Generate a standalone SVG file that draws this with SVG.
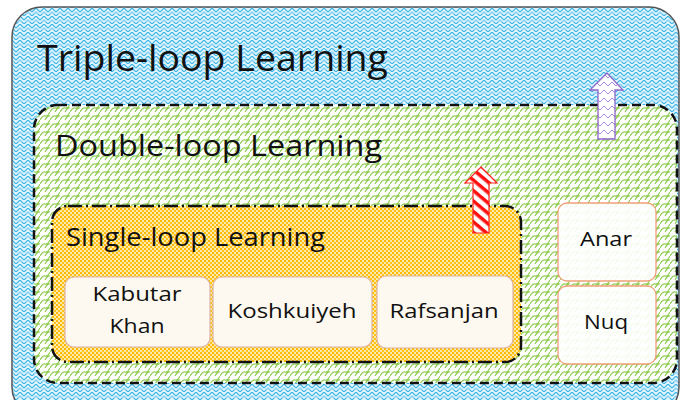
<svg xmlns="http://www.w3.org/2000/svg" width="681" height="400" viewBox="0 0 681 400">
  <defs>
    <!-- light blue herringbone weave -->
    <pattern id="weaveBlue" width="8" height="8" patternUnits="userSpaceOnUse">
      <rect width="8" height="8" fill="#e2f5fd"/>
      <path d="M0,4 L4,0 M4,0 L8,4 M0,8 L4,4 M4,4 L8,8" fill="none" stroke="#38b4e8" stroke-width="1.1"/>
      <path d="M2,6 L4,4 L6,6" fill="none" stroke="#8fd3f2" stroke-width="1"/>
    </pattern>
    <!-- green scale waves -->
    <pattern id="scaleGreen" width="10" height="8" patternUnits="userSpaceOnUse">
      <rect width="10" height="8" fill="#ffffff"/>
      <path d="M0,8 Q2.5,3 5,4 Q7.5,5 10,0 M-5,8 Q-2.5,3 0,4 M5,8 Q7.5,3 10,4" fill="none" stroke="#8fcc52" stroke-width="1.1"/>
    </pattern>
    <!-- orange dot screen -->
    <pattern id="dotsOrange" width="4" height="4" patternUnits="userSpaceOnUse">
      <rect width="4" height="4" fill="#fde9a8"/>
      <rect x="0" y="0" width="2" height="2" fill="#ffb800"/>
      <rect x="2" y="2" width="2" height="2" fill="#ffc21a"/>
    </pattern>
    <!-- red diagonal stripes -->
    <pattern id="stripeRed" width="8" height="8" patternUnits="userSpaceOnUse" patternTransform="rotate(40)">
      <rect width="8" height="8" fill="#ffffff"/>
      <rect width="8" height="3.5" fill="#ff1010"/>
    </pattern>
    <!-- purple light weave -->
    <pattern id="weavePurple" width="8" height="8" patternUnits="userSpaceOnUse">
      <rect width="8" height="8" fill="#ffffff"/>
      <path d="M0,6 L4,2 L8,6" fill="none" stroke="#a889d6" stroke-width="1"/>
    </pattern>
  </defs>
  <style>
    .title { font-family: "Open Sans", "Liberation Sans", sans-serif; fill: #111111; }
    .label { font-family: "Open Sans", "Liberation Sans", sans-serif; font-size: 20px; fill: #111111; text-anchor: middle; }
    .city { fill: #fdf9f0; stroke: #dcb4a4; stroke-width: 1.2; }
    .village { fill: #ffffff; fill-opacity: 0.9; stroke: #f0a07a; stroke-width: 1.3; }
  </style>

  <g id="triple-loop">
    <rect x="12" y="7" width="667" height="410" rx="30" fill="url(#weaveBlue)" stroke="#555555" stroke-width="1.5"/>
    <text class="title" x="37" y="71" font-size="36" textLength="351" lengthAdjust="spacingAndGlyphs">Triple-loop Learning</text>
  </g>

  <g id="double-loop">
    <rect x="34" y="105" width="643" height="278" rx="24" fill="url(#scaleGreen)" stroke="#111111" stroke-width="2.5" stroke-dasharray="9 5"/>
    <text class="title" x="55" y="156" font-size="30" textLength="327" lengthAdjust="spacingAndGlyphs">Double-loop Learning</text>
  </g>

  <g id="single-loop">
    <rect x="52" y="206" width="469" height="156" rx="16" fill="url(#dotsOrange)" stroke="#111111" stroke-width="2.5" stroke-dasharray="14 4 2 4"/>
    <text class="title" x="66" y="246" font-size="25" textLength="259" lengthAdjust="spacingAndGlyphs">Single-loop Learning</text>
  </g>

  <g id="kabutar-khan">
    <rect class="city" x="65" y="277" width="145" height="70" rx="9"/>
    <text class="label" x="137" y="301" textLength="89" lengthAdjust="spacingAndGlyphs">Kabutar</text>
    <text class="label" x="137" y="333" textLength="55" lengthAdjust="spacingAndGlyphs">Khan</text>
  </g>

  <g id="koshkuiyeh">
    <rect class="city" x="213" y="277" width="159" height="70" rx="9"/>
    <text class="label" x="292" y="318" textLength="129" lengthAdjust="spacingAndGlyphs">Koshkuiyeh</text>
  </g>

  <g id="rafsanjan">
    <rect class="city" x="377" y="276" width="136" height="72" rx="9"/>
    <text class="label" x="444" y="318" textLength="109" lengthAdjust="spacingAndGlyphs">Rafsanjan</text>
  </g>

  <g id="anar">
    <rect class="village" x="558" y="203" width="98" height="78" rx="9"/>
    <text class="label" x="606" y="246" textLength="52" lengthAdjust="spacingAndGlyphs">Anar</text>
  </g>

  <g id="nuq">
    <rect class="village" x="558" y="286" width="98" height="78" rx="9"/>
    <text class="label" x="606" y="329" textLength="44" lengthAdjust="spacingAndGlyphs">Nuq</text>
  </g>

  <g id="connectors">
    <!-- single-loop to double-loop -->
    <path d="M481,167 L497,183 L489,183 L489,233 L473,233 L473,183 L465,183 Z" fill="url(#stripeRed)" stroke="#ff2020" stroke-width="1.2" stroke-linejoin="miter"/>
    <!-- double-loop to triple-loop -->
    <path d="M607,73 L623,90 L615,90 L615,139 L598,139 L598,90 L590,90 Z" fill="url(#weavePurple)" stroke="#8e66c8" stroke-width="1.3" stroke-linejoin="miter"/>
  </g>
</svg>
